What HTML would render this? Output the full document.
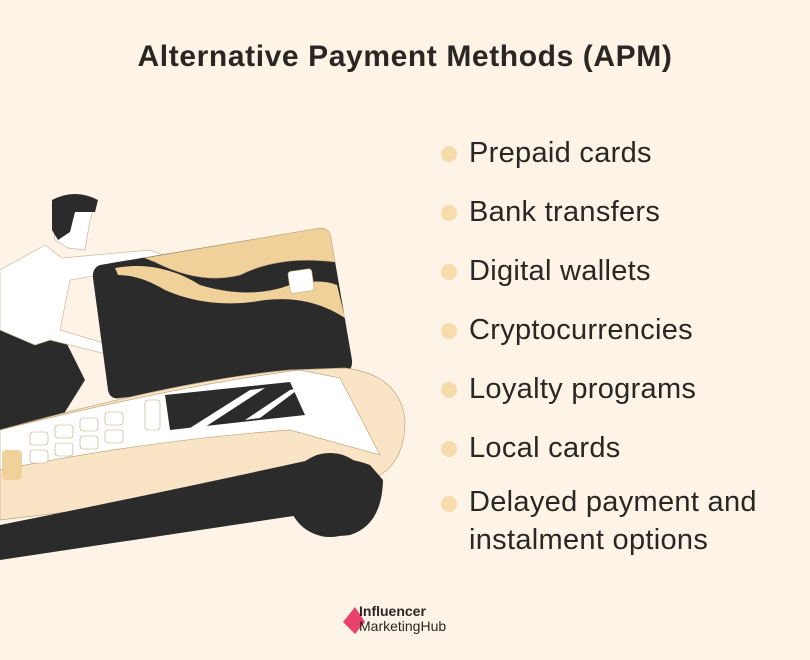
<!DOCTYPE html>
<html><head><meta charset="utf-8"><style>
html,body{margin:0;padding:0}
body{width:810px;height:660px;background:#fdf4e7;position:relative;overflow:hidden;font-family:"Liberation Sans",sans-serif;color:#2a2622}
.t{position:absolute;top:40px;left:0;width:810px;text-align:center;font-weight:bold;font-size:30px;letter-spacing:0.6px}
.li{position:absolute;left:469px;font-size:29px;line-height:34px;letter-spacing:0.3px}
.b{position:absolute;left:441px;width:16px;height:16px;border-radius:50%;background:#f6dcaa}
</style></head><body>
<div class="t">Alternative Payment Methods (APM)</div>
<svg width="810" height="660" style="position:absolute;left:0;top:0">
<path d="M0 300 Q25 320 60 330 L85 380 L60 420 L0 430Z" fill="#2b2b2b"/>
<path d="M0 270 L45 245 L62 258 L150 250 L170 258 L140 268 L70 280 L60 330 L110 345 L130 352 L110 355 L50 340 L35 345 L0 330Z" fill="#fff" stroke="#c9b9a0" stroke-width="0.7"/>
<path d="M52 205 Q70 190 95 205 L90 220 L85 250 L68 248 L55 240Z" fill="#fff" stroke="#c9b9a0" stroke-width="0.7"/>
<path d="M52 200 Q75 188 98 200 L95 212 L75 212 L70 232 L58 240 L52 230Z" fill="#2b2b2b"/>
<path d="M100 265 L320 228 Q330 228 331 238 L352 360 Q353 372 342 373 L120 398 Q110 400 108 390 L93 278 Q92 268 100 265Z" fill="#2b2b2b"/>
<path d="M145 258 L320 228 Q330 228 331 238 L335 262 Q280 255 240 275 Q200 285 155 262Z" fill="#f0d19a" stroke="#bfa77f" stroke-width="0.6"/>
<path d="M115 268 Q160 260 200 285 Q250 300 290 285 Q320 278 337 285 L345 318 Q310 295 265 300 Q210 310 165 290 Q140 275 118 275Z" fill="#f0d19a"/>
<rect x="289" y="270" width="24" height="22" rx="3" fill="#fff" stroke="#bfa77f" stroke-width="0.6" transform="rotate(-8 301 281)"/>
<path d="M0 430 Q180 380 290 370 L345 368 Q400 375 405 420 Q405 460 380 475 L0 520Z" fill="#f9e4c6" stroke="#bfa77f" stroke-width="0.7"/>
<path d="M0 430 Q180 385 300 370 L340 378 L380 455 L290 430 Q150 440 0 470Z" fill="#fff" stroke="#bfa77f" stroke-width="0.7"/>
<path d="M165 395 L290 382 L305 415 L170 430Z" fill="#2b2b2b"/>
<path d="M190 428 L250 390 L265 388 L205 427Z" fill="#fff"/>
<path d="M245 420 L290 390 L300 388 L260 418Z" fill="#fff"/>
<path d="M0 525 Q150 495 310 460 Q345 455 370 465 L383 480 Q382 525 350 535 Q320 540 300 515 L0 560Z" fill="#2b2b2b"/>
<circle cx="330" cy="495" r="42" fill="#2b2b2b"/>
<g fill="#fff" stroke="#bfa77f" stroke-width="0.6">
<rect x="30" y="432" width="18" height="13" rx="3"/><rect x="55" y="425" width="18" height="13" rx="3"/><rect x="80" y="418" width="18" height="13" rx="3"/><rect x="105" y="412" width="18" height="13" rx="3"/>
<rect x="30" y="450" width="18" height="13" rx="3"/><rect x="55" y="443" width="18" height="13" rx="3"/><rect x="80" y="436" width="18" height="13" rx="3"/><rect x="105" y="430" width="18" height="13" rx="3"/>
<rect x="145" y="400" width="15" height="30" rx="3"/>
</g>
<rect x="2" y="450" width="20" height="30" rx="4" fill="#f0d19a"/>
<path d="M343 622 L355 607 L365 622 L355 634Z" fill="#e8416b"/>
</svg>
<div class="b" style="top:146px"></div><div class="li" style="top:136px">Prepaid cards</div>
<div class="b" style="top:205px"></div><div class="li" style="top:195px">Bank transfers</div>
<div class="b" style="top:264px"></div><div class="li" style="top:254px">Digital wallets</div>
<div class="b" style="top:323px"></div><div class="li" style="top:313px">Cryptocurrencies</div>
<div class="b" style="top:382px"></div><div class="li" style="top:372px">Loyalty programs</div>
<div class="b" style="top:441px"></div><div class="li" style="top:431px">Local cards</div>
<div class="b" style="top:496px"></div><div class="li" style="top:486px;line-height:38px;top:483px">Delayed payment and<br>instalment options</div>
<div style="position:absolute;left:359px;top:604px;font-size:14px;line-height:15px;color:#2a2622"><b>Influencer</b><br>MarketingHub</div>
</body></html>
